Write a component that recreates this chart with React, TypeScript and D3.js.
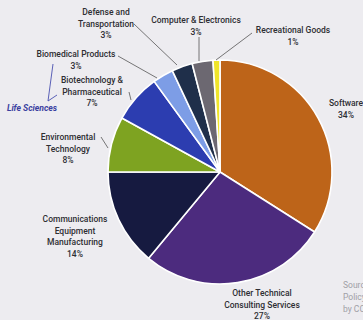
import React from "react";
import * as d3 from "d3";

const categories = [
  "Software",
  "Other Technical Consulting Services",
  "Communications Equipment Manufacturing",
  "Environmental Technology",
  "Biotechnology & Pharmaceutical",
  "Biomedical Products",
  "Defense and Transportation",
  "Computer & Electronics",
  "Recreational Goods",
];
const values = [34, 27, 14, 8, 7, 3, 3, 3, 1];
const colors = ["#BD6419", "#4C2B7E", "#161A40", "#7EA321", "#2C3DB0", "#7D9DE6", "#1F2F4A", "#6C6871", "#F0E52A"];

type Lbl = { lines: string[]; x: number; y: number; anchor?: string };
const labels: Lbl[] = [
  { lines: ["Software", "34%"], x: 346, y: 103 },
  { lines: ["Other Technical", "Consulting Services", "27%"], x: 262, y: 293 },
  { lines: ["Communications", "Equipment", "Manufacturing", "14%"], x: 75, y: 219 },
  { lines: ["Environmental", "Technology", "8%"], x: 68, y: 137 },
  { lines: ["Biotechnology &", "Pharmaceutical", "7%"], x: 92, y: 80 },
  { lines: ["Biomedical Products", "3%"], x: 76, y: 54 },
  { lines: ["Defense and", "Transportation", "3%"], x: 106, y: 12 },
  { lines: ["Computer & Electronics", "3%"], x: 196, y: 20 },
  { lines: ["Recreational Goods", "1%"], x: 293, y: 30 },
];
const leaders: [number, number, number, number][] = [
  [134, 24, 177, 65],
  [199, 37, 199, 61],
  [252, 33, 216, 60],
  [118, 56, 157, 78],
  [129, 92, 131, 100],
  [101, 137, 108, 148],
];
const sourceLines = ["Sourc", "Policy", "by CC"];

export default function App() {
  const W = 363, H = 320;
  const cx = 220, cy = 172, r = 112;
  const pie = d3.pie<number>().sort(null).value((d) => d);
  const arcs = pie(values);
  const arc = d3.arc<d3.PieArcDatum<number>>().innerRadius(0).outerRadius(r);
  return (
    <svg width={W} height={H} style={{ position: "absolute", left: 0, top: 0, background: "#EDECF0" }}
      fontFamily="Roboto, 'DejaVu Sans', sans-serif">
      <rect width={W} height={H} fill="#EDECF0" />
      <g transform={`translate(${cx},${cy})`}>
        {arcs.map((a, i) => (
          <path key={categories[i]} d={arc(a) || ""} fill={colors[i]} stroke="#FFFFFF" strokeWidth={1.6} strokeLinejoin="round" />
        ))}
      </g>
      {leaders.map((l, i) => (
        <line key={i} x1={l[0]} y1={l[1]} x2={l[2]} y2={l[3]} stroke="#555" strokeWidth={0.8} />
      ))}
      <path d="M53,64 L48,101 L57,95" fill="none" stroke="#4A50B0" strokeWidth={0.9} />
      <text x={32} y={111} textAnchor="middle" fontSize={8.6} fontStyle="italic" fontWeight={700} fill="#3A40A0">Life Sciences</text>
      {labels.map((l, i) => (
        <text key={i} textAnchor="middle" fontSize={8.5} fontWeight={500} fill="#2E2E33">
          {l.lines.map((s, j) => (
            <tspan key={j} x={l.x} y={l.y + 3 + j * 11.5}>{s}</tspan>
          ))}
        </text>
      ))}
      {sourceLines.map((s, j) => (
        <text key={j} x={343} y={288 + j * 12} fontSize={8.5} fill="#A0A0A6">{s}</text>
      ))}
    </svg>
  );
}
